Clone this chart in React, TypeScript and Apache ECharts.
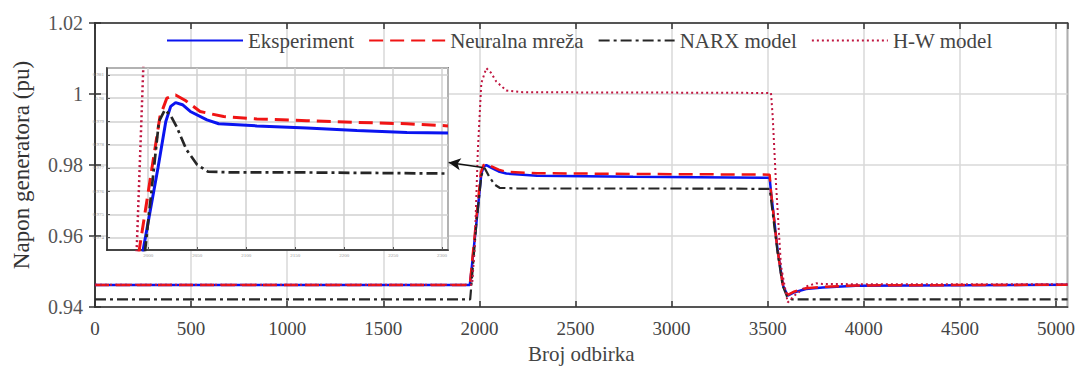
import React, { useEffect, useRef } from 'react';
import * as echarts from 'echarts';

const seriesNames = ['Eksperiment', 'Neuralna mreža', 'NARX model', 'H-W model'];

// Main chart data: [sample, voltage pu]
const eksperiment: number[][] = [
  [0, 0.9462], [1950, 0.9462], [1958, 0.9500], [1985, 0.9640], [2010, 0.9775], [2022, 0.9795],
  [2036, 0.9800], [2060, 0.9793], [2100, 0.9782], [2140, 0.9776], [2300, 0.9770], [2800, 0.9767],
  [3510, 0.9764], [3518, 0.9720], [3551, 0.9563], [3580, 0.9460], [3604, 0.9432], [3640, 0.9442],
  [3699, 0.9451], [3786, 0.9455], [3959, 0.9460], [5060, 0.9463],
];
const neuralnaMreza: number[][] = [
  [0, 0.9462], [1950, 0.9462], [1957, 0.9500], [1984, 0.9650], [2008, 0.9780], [2022, 0.9800],
  [2036, 0.9804], [2060, 0.9797], [2100, 0.9787], [2140, 0.9781], [2300, 0.9777], [2800, 0.9775],
  [3510, 0.9773], [3517, 0.9725], [3550, 0.9565], [3578, 0.9465], [3602, 0.9434], [3640, 0.9444],
  [3699, 0.9453], [3786, 0.9457], [3959, 0.9461], [5060, 0.9463],
];
const narxModel: number[][] = [
  [0, 0.9422], [1952, 0.9422], [1958, 0.9460], [1985, 0.9640], [2010, 0.9770], [2027, 0.9792],
  [2050, 0.9768], [2079, 0.9745], [2105, 0.9736], [2200, 0.9734], [3000, 0.9734], [3510, 0.9733],
  [3518, 0.9700], [3550, 0.9560], [3578, 0.9460], [3600, 0.9430], [3625, 0.9422], [5060, 0.9422],
];
const hwModel: number[][] = [
  [0, 0.9463], [1962, 0.9463], [1975, 0.9563], [1992, 0.9843], [2010, 1.0031], [2036, 1.0073],
  [2060, 1.0060], [2088, 1.0035], [2140, 1.0010], [2226, 1.0005], [3000, 1.0004], [3517, 1.0003],
  [3526, 0.9937], [3543, 0.9750], [3569, 0.9516], [3604, 0.9413], [3638, 0.9432], [3699, 0.9458],
  [3751, 0.9467], [3786, 0.9465], [4200, 0.9464], [5060, 0.9464],
];

// Inset (magnified step response)
const insetEksperiment: number[][] = [
  [1990, 0.9715], [1995, 0.9735], [2010, 0.9770], [2018, 0.9790], [2023, 0.97965], [2028, 0.97981],
  [2035, 0.97972], [2043, 0.97943], [2060, 0.97907], [2072, 0.9789], [2111, 0.97881], [2162, 0.97872],
  [2213, 0.97861], [2264, 0.97853], [2306, 0.9785],
];
const insetNeuralnaMreza: number[][] = [
  [1986, 0.9715], [1991, 0.9735], [2012, 0.9792], [2019, 0.98000], [2028, 0.98014], [2038, 0.97990],
  [2053, 0.97943], [2077, 0.97921], [2111, 0.97911], [2162, 0.97903], [2213, 0.97896], [2264, 0.9789],
  [2306, 0.97881],
];
const insetNarxModel: number[][] = [
  [1992, 0.9715], [1997, 0.9735], [2011, 0.9790], [2017, 0.9795], [2023, 0.97925], [2029, 0.97878],
  [2039, 0.97779], [2050, 0.97714], [2061, 0.97684], [2084, 0.97681], [2145, 0.97681], [2213, 0.97679],
  [2306, 0.97676],
];
const insetHwModel: number[][] = [[1986, 0.9708], [1997, 0.9836]];

// Arrow from curve to inset (data coordinates of main chart)
const arrowFrom = [2017, 0.9793];
const arrowTo = [1840, 0.9807];

const FONT = 'Liberation Serif, serif';
const colors = ['#0a14f0', '#f01414', '#262626', '#c01640'];
const lineTypes: any[] = ['solid', [14, 7], [11, 4, 3, 4], [2, 3]];
const widths = [2.5, 2.5, 2.2, 2];
const fmt = (v: number) => String(v);

export default function App() {
  const ref = useRef<HTMLDivElement>(null);
  useEffect(() => {
    if (!ref.current) return;
    const chart = echarts.init(ref.current, undefined, { renderer: 'svg' });
    const mainData = [eksperiment, neuralnaMreza, narxModel, hwModel];
    const insetData = [insetEksperiment, insetNeuralnaMreza, insetNarxModel, insetHwModel];

    const axisLine = { show: true, lineStyle: { color: '#333', width: 1.5 } };
    const split = { show: true, lineStyle: { color: '#d8d8d8', width: 1.5 } };
    const tick = { show: true, inside: true, length: 6, lineStyle: { color: '#333', width: 1.5 } };

    const series: any[] = [];
    mainData.forEach((d, i) => {
      const s: any = {
        type: 'line', name: seriesNames[i], data: d, xAxisIndex: 0, yAxisIndex: 0,
        showSymbol: false, symbol: 'none', symbolSize: 0, z: 2 + i * 0.1,
        lineStyle: { color: colors[i], width: widths[i], type: lineTypes[i] },
        itemStyle: { color: colors[i] },
      };
      if (i === 2) {
        s.markLine = {
          silent: true, symbol: ['none', 'arrow'], symbolSize: [9, 12],
          label: { show: false },
          lineStyle: { color: '#111', width: 1.5, type: 'solid' },
          data: [[{ coord: arrowFrom }, { coord: arrowTo }]],
        };
      }
      series.push(s);
    });
    insetData.forEach((d, i) => {
      series.push({
        type: 'line', name: seriesNames[i], data: d, xAxisIndex: 2, yAxisIndex: 2,
        showSymbol: false, symbol: 'none', symbolSize: 0, z: 6 + i * 0.1, clip: true,
        lineStyle: { color: colors[i], width: widths[i] + 0.5, type: lineTypes[i] },
        itemStyle: { color: colors[i] },
      });
    });

    chart.setOption({
      animation: false,
      backgroundColor: '#ffffff',
      textStyle: { fontFamily: FONT },
      legend: {
        data: seriesNames, left: 161, top: 25, itemWidth: 76, itemHeight: 12, itemGap: 14,
        itemStyle: { opacity: 0 },
        textStyle: { fontFamily: FONT, fontSize: 21, color: '#444' },
        backgroundColor: 'transparent',
      },
      grid: [
        { left: 95, top: 23, right: 9, bottom: 61, show: true, borderColor: '#333', borderWidth: 1.5, z: 0 },
        { left: 107, top: 68, width: 341, height: 182, show: true, backgroundColor: '#ffffff', borderColor: '#222', borderWidth: 1.5, z: 4 },
      ],
      xAxis: [
        {
          type: 'value', gridIndex: 0, min: 0, max: 5060, interval: 500, position: 'bottom',
          name: 'Broj odbirka', nameLocation: 'middle', nameGap: 34,
          nameTextStyle: { fontFamily: FONT, fontSize: 21, color: '#444' },
          axisLine, axisTick: tick,
          axisLabel: { fontFamily: FONT, fontSize: 19, color: '#444', margin: 12, showMaxLabel: false, formatter: fmt },
          splitLine: split,
        },
        {
          type: 'value', gridIndex: 0, min: 0, max: 5060, interval: 500, position: 'top',
          axisLine, axisTick: tick,
          axisLabel: { show: false }, splitLine: { show: false },
        },
        {
          type: 'value', gridIndex: 1, min: 1958, max: 2306, position: 'bottom', z: 5,
          axisLine: { show: true, lineStyle: { color: '#222', width: 1.5 } },
          axisTick: { show: true, inside: true, length: 3, lineStyle: { color: '#555' } },
          axisLabel: { fontFamily: FONT, fontSize: 5, color: '#999', margin: 3, showMinLabel: false, showMaxLabel: false, formatter: fmt },
          splitLine: { show: true, lineStyle: { color: '#d0d0d0', width: 1.5 } },
        },
      ],
      yAxis: [
        {
          type: 'value', gridIndex: 0, min: 0.94, max: 1.02, interval: 0.02, position: 'left',
          name: 'Napon generatora (pu)', nameLocation: 'middle', nameGap: 62,
          nameTextStyle: { fontFamily: FONT, fontSize: 23, color: '#333' },
          axisLine, axisTick: tick,
          axisLabel: { fontFamily: FONT, fontSize: 20, color: '#555', margin: 12, formatter: fmt },
          splitLine: split,
        },
        {
          type: 'value', gridIndex: 0, min: 0.94, max: 1.02, interval: 0.02, position: 'right',
          axisLine, axisTick: tick,
          axisLabel: { show: false }, splitLine: { show: false },
        },
        {
          type: 'value', gridIndex: 1, min: 0.97347, max: 0.9813, splitNumber: 8, position: 'left', z: 5,
          axisLine: { show: true, lineStyle: { color: '#222', width: 1.5 } },
          axisTick: { show: true, inside: true, length: 3, lineStyle: { color: '#555' } },
          axisLabel: { fontFamily: FONT, fontSize: 5, color: '#999', margin: 3, showMinLabel: false, showMaxLabel: false, formatter: fmt },
          splitLine: { show: true, lineStyle: { color: '#d0d0d0', width: 1.5 } },
        },
      ],
      series,
    });
    return () => chart.dispose();
  }, []);
  return <div ref={ref} style={{ position: 'fixed', left: 0, top: 0, width: 1078, height: 369 }} />;
}
